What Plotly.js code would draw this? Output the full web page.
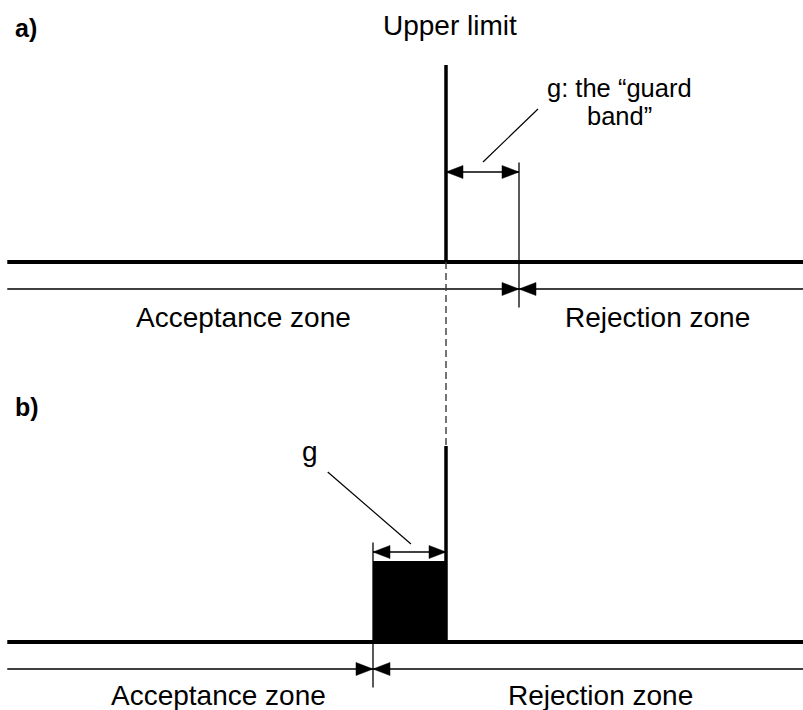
<!DOCTYPE html>
<html>
<head>
<meta charset="utf-8">
<script src="https://cdn.plot.ly/plotly-3.0.1.min.js"></script>
<style>html,body{margin:0;padding:0;background:#fff;}#chart{width:803px;height:710px;}</style>
</head>
<body>
<div id="chart"></div>
<script>
// ---- data ----
const panelLabels = ['a)', 'b)'];
const upperLimitLabel = 'Upper limit';
const zoneLabels = ['Acceptance zone', 'Rejection zone'];
const guardLabels = ['g: the \u201cguard', 'band\u201d', 'g'];
const upperLimit = 0;            // specification upper limit
const guardBand = [1, 1];        // width g of guard band in panels a and b
const guardSign = [1, -1];       // a: acceptance widened, b: acceptance narrowed
const acceptanceLimit = guardBand.map((g, i) => upperLimit + guardSign[i] * g);

// ---- layout helpers (pixel y positions, x extent of the scale) ----
const xExtent = [-6.01, 4.95];
const panelOffset = [0, 380];
const Y = { limitTop: [65, 446], base: 262, guardTop: 162, guardBot: 307, dim: 172, zone: 289, zoneText: 317, blockTop: 561 };
const FONT = 'Liberation Sans, Arial, sans-serif';
const TH = 4, TV = 3.5, THIN = 1.3;

const shapes = [];
const annotations = [];
function line(x0, y0, x1, y1, w, dash, col) {
  shapes.push({type: 'line', xref: 'x', yref: 'y', x0, y0, x1, y1,
    line: {color: col || '#000', width: w, dash: dash || 'solid'}});
}
function head(x, y, dir) { // dir = +1 points right, -1 points left
  const L = 17 * dir, H = 6.5;
  shapes.push({type: 'path', xref: 'x', yref: 'y', xsizemode: 'pixel', ysizemode: 'pixel',
    xanchor: x, yanchor: y, path: `M0,0 L${-L},${H} L${-L},${-H} Z`,
    fillcolor: '#000', line: {color: '#000', width: 0.5}});
}
function text(t, x, y, size, opts) {
  annotations.push(Object.assign({text: t, x, y, xref: 'x', yref: 'y', showarrow: false,
    xanchor: 'center', yanchor: 'middle', font: {family: FONT, size: size, color: '#000'}}, opts || {}));
}

const zoneTextX = [[-2.77, 2.90], [-3.11, 2.12]];

panelLabels.forEach((lab, i) => {
  const o = panelOffset[i];
  const acc = acceptanceLimit[i];
  // panel label
  text('<b>' + lab + '</b>', -5.93, [28, 407][i], 25, {xanchor: 'left'});
  // guard block (panel b)
  if (guardSign[i] < 0) {
    shapes.push({type: 'rect', xref: 'x', yref: 'y', x0: acc, x1: upperLimit,
      y0: Y.blockTop, y1: Y.base + o, fillcolor: '#000', line: {width: 0}});
  }
  // baseline scale
  line(xExtent[0], Y.base + o, xExtent[1], Y.base + o, TH);
  // upper limit line
  line(upperLimit, Y.limitTop[i], upperLimit, Y.base + o, TV);
  // acceptance limit marker
  line(acc, Y.guardTop + o + 0.5, acc, Y.guardBot + o + 0.5, THIN);
  // guard band dimension arrow
  const gl = Math.min(acc, upperLimit), gr = Math.max(acc, upperLimit);
  line(gl, Y.dim + o, gr, Y.dim + o, THIN);
  head(gl, Y.dim + o, -1);
  head(gr, Y.dim + o, 1);
  // zone arrows
  line(xExtent[0], Y.zone + o, acc, Y.zone + o, THIN);
  line(acc, Y.zone + o, xExtent[1], Y.zone + o, THIN);
  head(acc, Y.zone + o, 1);
  head(acc, Y.zone + o, -1);
  // zone labels
  text(zoneLabels[0], zoneTextX[i][0], Y.zoneText + o - (i ? 2 : 0), 28);
  text(zoneLabels[1], zoneTextX[i][1], Y.zoneText + o - (i ? 2 : 0), 28);
});

// dashed continuation of upper limit between panels
line(upperLimit, Y.base, upperLimit, Y.limitTop[1], 1.4, '7px,4px', '#3a3a3a');

// title of the limit
text(upperLimitLabel, upperLimit + 0.05, 25, 28);

// guard band callouts
line(1.26, 109, 0.507, 162, 1.2);
text(guardLabels[0], 2.37, 88, 25.5);
text(guardLabels[1], 2.37, 116, 25.5);
line(-1.62, 472, -0.48, 544, 1.2);
text(guardLabels[2], -1.86, 451, 28);

const layout = {
  width: 803, height: 710,
  margin: {l: 0, r: 0, t: 0, b: 0, pad: 0},
  paper_bgcolor: '#fff', plot_bgcolor: '#fff',
  showlegend: false,
  xaxis: {range: [-446 / 73, 357 / 73], visible: false, fixedrange: true},
  yaxis: {range: [710, 0], autorange: false, visible: false, fixedrange: true},
  shapes, annotations
};

Plotly.newPlot('chart', [{x: [], y: [], type: 'scatter', mode: 'lines', hoverinfo: 'skip'}], layout, {staticPlot: true, displayModeBar: false});
</script>
</body>
</html>
